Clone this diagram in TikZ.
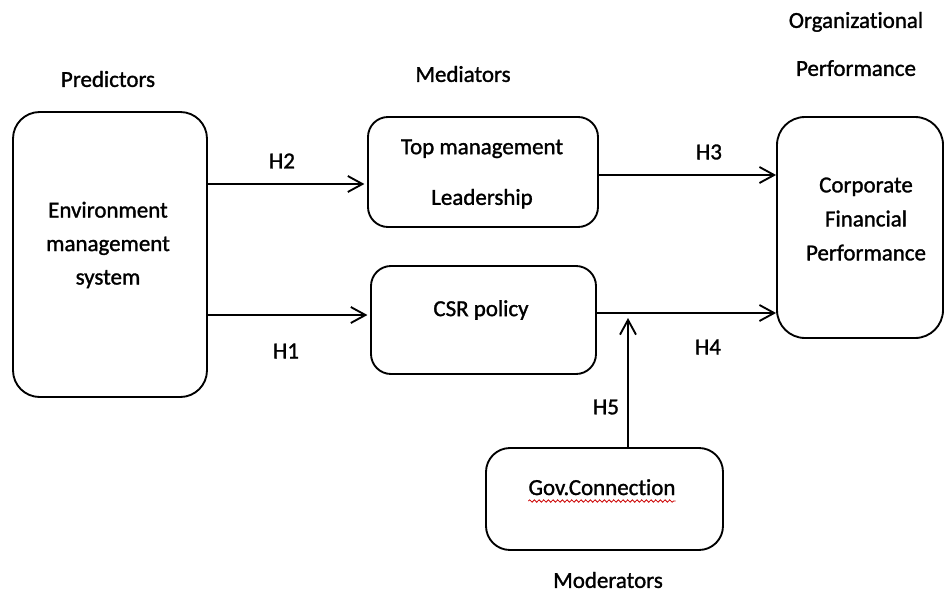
\documentclass[tikz,border=0pt]{standalone}
\usepackage{fontspec}
\setmainfont{Carlito}[Ligatures=NoCommon,FakeBold=1.3]
\usetikzlibrary{arrows.meta,decorations.pathmorphing}
\begin{document}
\begin{tikzpicture}[x=0.75pt,y=-0.75pt,
  box/.style={draw,line width=1.4pt,inner sep=0pt},
  txt/.style={inner sep=0pt,align=center,font=\fontsize{17.2pt}{25pt}\selectfont},
  arr/.style={line width=1.4pt,-{Straight Barb[length=11pt,width=12pt,line width=1.4pt]}}]
\useasboundingbox (0,0) rectangle (945,593);
% boxes
\node[box,minimum width=145.5pt,minimum height=213.75pt,rounded corners=20pt] (ems) at (110,254.5) {};
\node[box,minimum width=172.5pt,minimum height=82.5pt,rounded corners=15pt] (tml) at (483,172) {};
\node[box,minimum width=168.75pt,minimum height=81pt,rounded corners=15pt] (csr) at (483.5,320) {};
\node[box,minimum width=124.5pt,minimum height=165.75pt,rounded corners=21pt] (cfp) at (860,227.5) {};
\node[box,minimum width=177.75pt,minimum height=76.5pt,rounded corners=18pt] (gov) at (604.5,499) {};
% box texts
\node[txt,font=\fontsize{17.2pt}{25.1pt}\selectfont] (emst) at (108,245) {Environment\\management\\system};
\node[txt,font=\fontsize{17.2pt}{38pt}\selectfont] (tmlt) at (482,174) {Top management\\Leadership};
\node[txt] (csrt) at (481,310) {CSR policy};
\node[txt,font=\fontsize{17.2pt}{25.5pt}\selectfont] (cfpt) at (866,219) {Corporate\\Financial\\Performance};
\node[txt,anchor=base] (govt) at (602,495) {Gov.Connection};
\draw[red!80!black,line width=0.6pt,decorate,decoration={snake,amplitude=0.9pt,segment length=3.5pt}]
  ([yshift=-4.5pt]govt.base west) -- ([yshift=-4.5pt]govt.base east);
% headings
\node[txt] (pred) at (108,79) {Predictors};
\node[txt] (med) at (463,74) {Mediators};
\node[txt,font=\fontsize{17.2pt}{36pt}\selectfont] (orgp) at (856,44) {Organizational\\Performance};
\node[txt] (mod) at (608,580) {Moderators};
% connectors
\coordinate (h4end) at (628,318);
\draw[arr] (ems.east |- 0,184) -- ([xshift=-2pt]tml.west |- 0,184);
\draw[arr] (ems.east |- 0,315) -- ([xshift=-2pt]csr.west |- 0,315);
\draw[arr] (tml.east |- 0,175) -- (cfp.west |- 0,175);
\draw[arr] (csr.east |- 0,313) -- (cfp.west |- 0,313);
\draw[arr] (gov.north -| h4end) -- (h4end);
% hypothesis labels
\node[txt] (h2) at (282,161) {H2};
\node[txt] (h1) at (286,351) {H1};
\node[txt] (h3) at (709,152) {H3};
\node[txt] (h4) at (708,347) {H4};
\node[txt] (h5) at (606,407) {H5};
\end{tikzpicture}
\end{document}
